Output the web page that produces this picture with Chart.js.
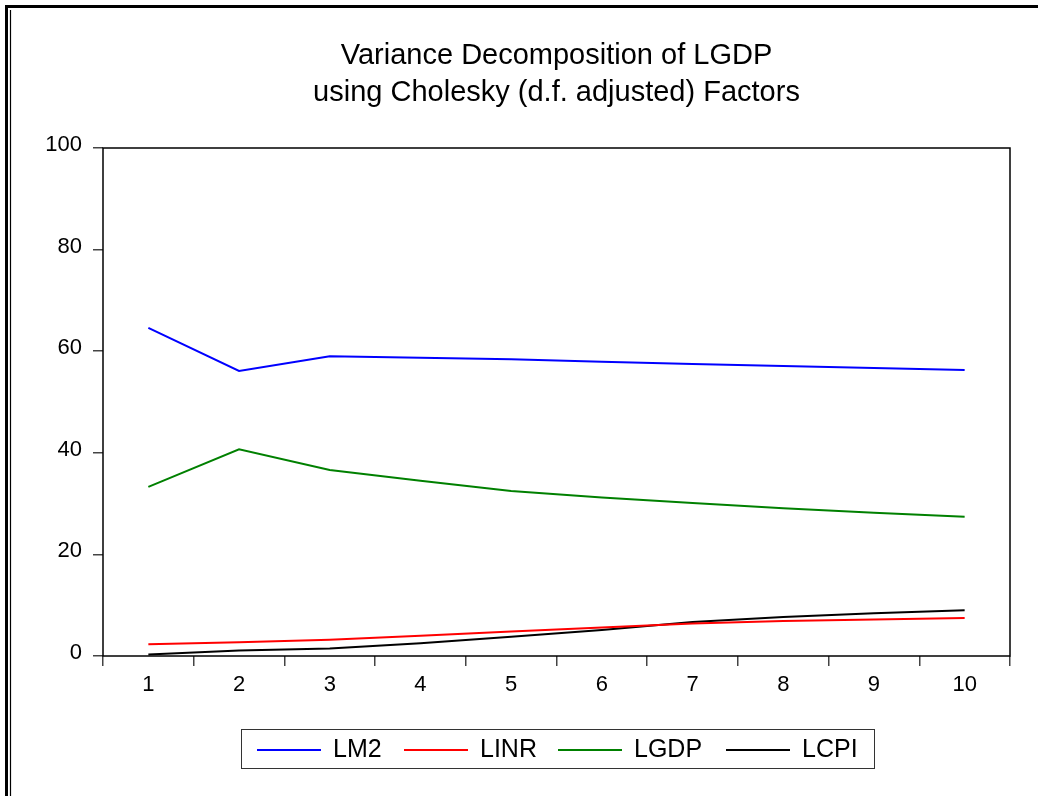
<!DOCTYPE html>
<html>
<head>
<meta charset="utf-8">
<title>Variance Decomposition of LGDP</title>
<script src="https://cdn.jsdelivr.net/npm/chart.js@4/dist/chart.umd.min.js"></script>
<style>
  body { margin: 0; background: #fff; }
  canvas { display: block; }
</style>
</head>
<body>
<canvas id="vdChart" width="1038" height="796"></canvas>
<script>
const periods = ['1', '2', '3', '4', '5', '6', '7', '8', '9', '10'];
const lm2  = [64.6, 56.1, 59.0, 58.7, 58.4, 57.9, 57.5, 57.1, 56.7, 56.3];
const linr = [2.3, 2.7, 3.2, 4.0, 4.8, 5.6, 6.4, 6.9, 7.2, 7.5];
const lgdp = [33.3, 40.7, 36.6, 34.5, 32.5, 31.2, 30.1, 29.1, 28.2, 27.4];
const lcpi = [0.3, 1.1, 1.5, 2.5, 3.8, 5.1, 6.7, 7.7, 8.4, 9.0];
const yTicks = [0, 20, 40, 60, 80, 100];

const titleLines = ['Variance Decomposition of LGDP', 'using Cholesky (d.f. adjusted) Factors'];
const FONT = '"Liberation Sans", Arial, Helvetica, sans-serif';

// frame, plot box, title and boxed legend
const decor = {
  id: 'decor',
  beforeDraw(chart) {
    const ctx = chart.ctx;
    ctx.save();
    ctx.fillStyle = '#fff';
    ctx.fillRect(0, 0, chart.width, chart.height);
    ctx.strokeStyle = '#000';
    ctx.lineWidth = 3;
    ctx.beginPath();
    ctx.moveTo(6.5, chart.height);
    ctx.lineTo(6.5, 6.5);
    ctx.lineTo(chart.width, 6.5);
    ctx.stroke();
    ctx.lineWidth = 1.2;
    ctx.beginPath();
    ctx.moveTo(10.5, chart.height);
    ctx.lineTo(10.5, 10);
    ctx.stroke();
    ctx.restore();
  },
  afterDraw(chart) {
    const ctx = chart.ctx;
    const a = chart.chartArea;
    ctx.save();
    ctx.strokeStyle = '#000';
    ctx.lineWidth = 1.5;
    ctx.strokeRect(a.left, a.top, a.right - a.left, a.bottom - a.top);

    ctx.fillStyle = '#000';
    ctx.font = '29px ' + FONT;
    ctx.textAlign = 'center';
    ctx.textBaseline = 'middle';
    const cx = (a.left + a.right) / 2;
    titleLines.forEach((t, i) => ctx.fillText(t, cx, 56 + i * 37));

    // legend box
    const box = { x: 241, y: 729, w: 633, h: 39 };
    ctx.lineWidth = 1;
    ctx.strokeStyle = '#333';
    ctx.strokeRect(box.x + 0.5, box.y + 0.5, box.w, box.h);
    const starts = [257, 404, 558, 726];
    ctx.font = '25px ' + FONT;
    ctx.textAlign = 'left';
    chart.data.datasets.forEach((ds, i) => {
      const x = starts[i];
      const y = 750;
      ctx.strokeStyle = ds.borderColor;
      ctx.lineWidth = 2;
      ctx.beginPath();
      ctx.moveTo(x, y);
      ctx.lineTo(x + 64, y);
      ctx.stroke();
      ctx.fillStyle = '#000';
      ctx.fillText(ds.label, x + 76, y);
    });
    ctx.restore();
  }
};

const mkSet = (label, data, color) => ({
  label,
  data,
  borderColor: color,
  backgroundColor: color,
  borderWidth: 2,
  pointRadius: 0,
  tension: 0,
  fill: false,
});

new Chart(document.getElementById('vdChart'), {
  type: 'line',
  data: {
    labels: periods,
    datasets: [
      mkSet('LM2', lm2, '#0000ff'),
      mkSet('LINR', linr, '#ff0000'),
      mkSet('LGDP', lgdp, '#008000'),
      mkSet('LCPI', lcpi, '#000000'),
    ],
  },
  options: {
    responsive: false,
    animation: false,
    devicePixelRatio: 1,
    layout: { padding: { top: 148, left: 0, right: 28, bottom: 100 } },
    plugins: {
      legend: { display: false },
      title: { display: false },
      tooltip: { enabled: false },
    },
    scales: {
      x: {
        type: 'category',
        offset: true,
        afterFit(scale) { scale.height = 40; },
        border: { display: false },
        grid: {
          offset: true,
          drawOnChartArea: false,
          drawTicks: true,
          tickLength: 10,
          color: '#444',
          lineWidth: 1.5,
        },
        ticks: {
          color: '#000',
          padding: 6,
          maxRotation: 0,
          font: { family: FONT, size: 22 },
        },
      },
      y: {
        min: 0,
        max: 100,
        afterFit(scale) { scale.width = 103; },
        afterBuildTicks(scale) { scale.ticks = yTicks.map(v => ({ value: v })); },
        border: { display: false },
        grid: {
          drawOnChartArea: false,
          drawTicks: true,
          tickLength: 10,
          color: '#444',
          lineWidth: 1.5,
        },
        ticks: {
          color: '#000',
          padding: 11,
          labelOffset: -3,
          font: { family: FONT, size: 22 },
        },
      },
    },
  },
  plugins: [decor],
});
</script>
</body>
</html>
